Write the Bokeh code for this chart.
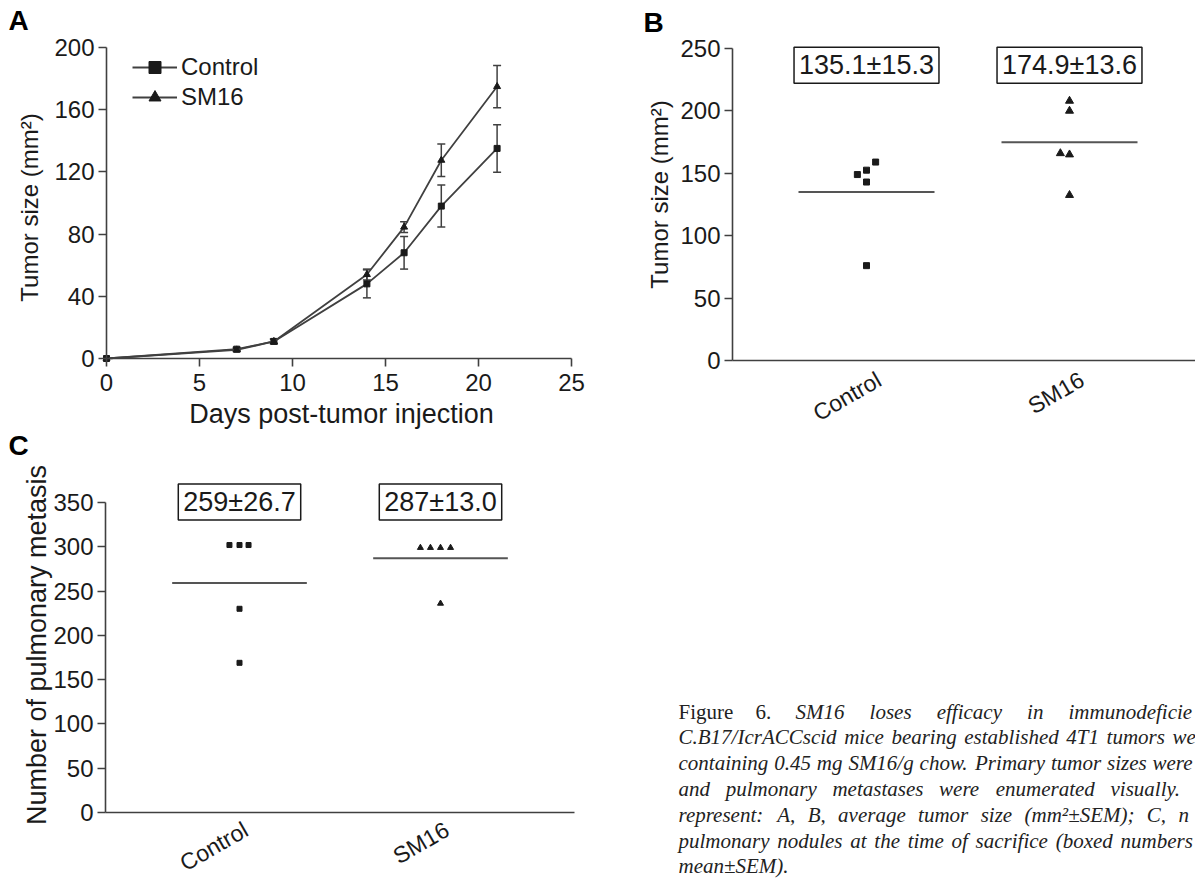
import math
from bokeh.plotting import figure
from bokeh.models import Range1d, Whisker, ColumnDataSource, Label, Legend, LegendItem, TeeHead, FixedTicker
from bokeh.layouts import row, column
from bokeh.embed import file_html
from bokeh.resources import INLINE
from bokeh.core.properties import value

FONT = "Liberation Sans"
SERIF = "Liberation Serif"
INK = "#1a1a1a"
AXIS = "#404040"

# ---------------- Panel A data ----------------
days = [0, 7, 9, 14, 16, 18, 21]
control_mean = [0, 6, 11, 48, 68, 98, 135.1]
control_sem = [0, 1, 1.5, 9, 10.5, 13.5, 15.3]
sm16_mean = [0, 5.5, 11, 54, 84.5, 127.5, 174.9]
sm16_sem = [0, 1, 1.5, 3.5, 3.5, 10.5, 13.6]
a_xticks = [0, 5, 10, 15, 20, 25]
a_yticks = [0, 40, 80, 120, 160, 200]

# ---------------- Panel B data ----------------
groups = ["Control", "SM16"]
b_control = [149, 152.5, 159, 143, 76]
b_control_jit = [-0.045, 0, 0.045, 0, 0]
b_sm16 = [208, 200, 166, 165, 132.5]
b_sm16_jit = [0, 0, -0.045, 0, 0]
b_means = [135.1, 174.9]
b_boxes = ["135.1±15.3", "174.9±13.6"]
b_yticks = [0, 50, 100, 150, 200, 250]

# ---------------- Panel C data ----------------
c_control = [302, 302, 302, 230, 169]
c_control_jit = [-0.05, 0, 0.045, 0, 0]
c_sm16 = [299, 299, 299, 299, 236]
c_sm16_jit = [-0.1, -0.05, 0, 0.05, 0]
c_means = [259, 287]
c_boxes = ["259±26.7", "287±13.0"]
c_yticks = [0, 50, 100, 150, 200, 250, 300, 350]

# ---------------- Caption (visible part of a justified column) ----------------
cap_upright = ["Figure", "6."]
cap_upright_x = [678, 755]
cap_lines = [
    "SM16 loses efficacy in immunodeficie",
    "C.B17/IcrACCscid mice bearing established 4T1 tumors we",
    "containing 0.45 mg SM16/g chow. Primary tumor sizes were",
    "and pulmonary metastases were enumerated visually.",
    "represent: A, B, average tumor size (mm²±SEM); C, n",
    "pulmonary nodules at the time of sacrifice (boxed numbers",
    "mean±SEM).",
]
# x where each line starts and where its last word starts (justified text)
cap_first_x = [795, 678, 678, 678, 678, 678, 678]
cap_last_x = [1068, 1172, 1152, 1110, 1178, 1120, None]
cap_top_baseline = 711
cap_line_step = 25.8
CAP_SIZE = 21

# approximate Times-Italic advance widths (em) used to justify the words
_TI = {" ": .25, "a": .5, "b": .5, "c": .444, "d": .5, "e": .444, "f": .278, "g": .5, "h": .5,
       "i": .278, "j": .278, "k": .444, "l": .278, "m": .722, "n": .5, "o": .5, "p": .5, "q": .5,
       "r": .389, "s": .389, "t": .278, "u": .5, "v": .444, "w": .667, "x": .444, "y": .444,
       "z": .389, "A": .611, "B": .611, "C": .667, "D": .722, "E": .611, "F": .611, "I": .333,
       "M": .833, "P": .611, "S": .5, "T": .556, ".": .25, ",": .25, ":": .333, ";": .333,
       "/": .278, "(": .333, ")": .333, "±": .549, "²": .3, "-": .333}


def tw(s):
    return sum(_TI.get(ch, .5) for ch in s) * CAP_SIZE


# ---------------- Layout (page pixels) ----------------
W_LEFT, W_RIGHT = 600, 595
H_TOP, H_BOT = 429, 449


def base_fig(w, h, xr, yr, **kw):
    p = figure(width=w, height=h, x_range=xr, y_range=yr, output_backend="svg",
               toolbar_location=None, min_border=0, **kw)
    p.grid.visible = False
    p.outline_line_color = None
    p.background_fill_color = "white"
    p.border_fill_color = "white"
    return p


def style_axis(ax, tick_size="24px"):
    ax.axis_line_color = AXIS
    ax.axis_line_width = 1.6
    ax.major_tick_line_color = AXIS
    ax.major_tick_line_width = 1.6
    ax.major_tick_out = 8
    ax.major_tick_in = 0
    ax.minor_tick_line_color = None
    ax.major_label_text_font = FONT
    ax.major_label_text_font_size = tick_size
    ax.major_label_text_color = INK
    ax.major_label_standoff = 4


def screen_label(p, text, x, y, size, bold=False, angle=0, align="left"):
    p.add_layout(Label(x=x, y=y, x_units="screen", y_units="screen", text=text,
                       text_font=FONT, text_font_style="bold" if bold else "normal",
                       text_font_size=size, text_color="black" if bold else INK,
                       angle=angle, angle_units="deg", text_align=align, text_baseline="middle"))


# ================= Panel A =================
# pixel calibration: day 0 at x=106, 18.6 px/day; 0 at y=358, 1.555 px/unit
ax0, apx, ay0, apy = 106, 18.6, 358, 1.555
pA = base_fig(W_LEFT, H_TOP, Range1d(-ax0 / apx, (W_LEFT - ax0) / apx),
              Range1d(-(H_TOP - ay0) / apy, ay0 / apy))
for ax in pA.axis:
    style_axis(ax)
pA.xaxis.ticker = FixedTicker(ticks=a_xticks)
pA.yaxis.ticker = FixedTicker(ticks=a_yticks)
pA.xaxis.bounds = (a_xticks[0], a_xticks[-1])
pA.yaxis.bounds = (a_yticks[0], a_yticks[-1])
pA.xaxis.fixed_location = 0
pA.yaxis.fixed_location = 0
pA.xaxis.major_label_standoff = 7

ctrl_line = pA.line(days, control_mean, line_color=AXIS, line_width=1.8)
ctrl_pts = pA.scatter(days, control_mean, marker="square", size=6, color=INK)
sm_line = pA.line(days, sm16_mean, line_color=AXIS, line_width=1.8)
sm_pts = pA.scatter(days, sm16_mean, marker="triangle", size=7, color=INK)

for mean, sem in ((control_mean, control_sem), (sm16_mean, sm16_sem)):
    xs = [d for d, s in zip(days, sem) if s > 0]
    up = [m + s for m, s in zip(mean, sem) if s > 0]
    lo = [m - s for m, s in zip(mean, sem) if s > 0]
    src = ColumnDataSource(dict(x=xs, upper=up, lower=lo))
    pA.add_layout(Whisker(source=src, base="x", upper="upper", lower="lower",
                          line_color=AXIS, line_width=1.5,
                          upper_head=TeeHead(size=8, line_color=AXIS, line_width=1.5),
                          lower_head=TeeHead(size=8, line_color=AXIS, line_width=1.5)))

legend = Legend(items=[LegendItem(label="Control", renderers=[ctrl_line, ctrl_pts]),
                       LegendItem(label="SM16", renderers=[sm_line, sm_pts])],
                location=(132, H_TOP - 112), glyph_width=45, glyph_height=30, label_height=30,
                label_standoff=4, padding=0, spacing=0, margin=0,
                border_line_color=None, background_fill_alpha=0,
                label_text_font=FONT, label_text_font_size="24px", label_text_color=INK)
pA.add_layout(legend)
screen_label(pA, "A", 8, H_TOP - 20, "28px", bold=True)
screen_label(pA, "Days post-tumor injection", 341, H_TOP - 413.5, "27px", align="center")
screen_label(pA, "Tumor size (mm²)", 29, H_TOP - 207, "24px", angle=90, align="center")


# ================= Dot panels (B, C) =================
def dot_panel(p, ctrl, ctrl_jit, sm, sm_jit, means, boxes, box_y, yticks, yaxis_x, xaxis_end,
              sq_size, tri_size, cat_dx, cat_y):
    for ax in p.axis:
        style_axis(ax)
    p.yaxis.ticker = FixedTicker(ticks=yticks)
    p.yaxis.bounds = (yticks[0], yticks[-1])
    p.yaxis.fixed_location = yaxis_x
    p.xaxis.ticker = FixedTicker(ticks=[])
    p.xaxis.major_tick_out = 0
    p.xaxis.bounds = (yaxis_x, xaxis_end)
    p.xaxis.fixed_location = 0
    p.scatter([1 + j for j in ctrl_jit], ctrl, marker="square", size=sq_size, color=INK)
    p.scatter([2 + j for j in sm_jit], sm, marker="triangle", size=tri_size, color=INK)
    xc = [i + 1 for i in range(len(groups))]
    p.segment(x0=[x - 0.335 for x in xc], x1=[x + 0.335 for x in xc], y0=means, y1=means,
              line_color="#555555", line_width=2)
    for x, t in zip(xc, boxes):
        p.add_layout(Label(x=x, y=box_y, text=t, text_font=FONT, text_font_size="27px",
                           text_color=INK, text_align="center", text_baseline="middle",
                           border_line_color=INK, border_line_width=1.5,
                           padding=dict(left=5, right=5, top=3, bottom=3)))
    for x, g in zip(xc, groups):
        p.add_layout(Label(x=x + cat_dx, y=cat_y, text=g, text_font=FONT,
                           text_font_size="23px", text_color=INK, angle=30, angle_units="deg",
                           text_align="right", text_baseline="top"))


# B calibration: x=1 at 866 px (page), 203 px/unit; y 0 at 360, 1.248 px/unit
bx1, bpx, by0, bpy = 866 - W_LEFT, 203, 360, 1.248
pB = base_fig(W_RIGHT, H_TOP, Range1d(1 - bx1 / bpx, 1 + (W_RIGHT - bx1) / bpx),
              Range1d(-(H_TOP - by0) / bpy, by0 / bpy))
dot_panel(pB, b_control, b_control_jit, b_sm16, b_sm16_jit, b_means, b_boxes, 236.5, b_yticks,
          1 - (866 - 732) / bpx, 1 + (W_RIGHT - bx1) / bpx, 6, 8, 0.03, -6 / bpy)
screen_label(pB, "B", 43, H_TOP - 22, "28px", bold=True)
screen_label(pB, "Tumor size (mm²)", 658.5 - W_LEFT, H_TOP - 194, "24px", angle=90, align="center")

# C calibration: x=1 at 239 px, 201 px/unit; y 0 at 812 (page), 0.8857 px/unit
cx1, cpx, cy0, cpy = 239, 201, 812 - H_TOP, 0.8857
pC = base_fig(W_LEFT, H_BOT, Range1d(1 - cx1 / cpx, 1 + (W_LEFT - cx1) / cpx),
              Range1d(-(H_BOT - cy0) / cpy, cy0 / cpy))
dot_panel(pC, c_control, c_control_jit, c_sm16, c_sm16_jit, c_means, c_boxes, 350.5, c_yticks,
          1 - (239 - 105) / cpx, 1 + (574 - 239) / cpx, 5, 6, 0.0, -4 / cpy)
screen_label(pC, "C", 8, H_BOT - (445 - H_TOP), "28px", bold=True)
screen_label(pC, "Number of pulmonary metasis", 36.5, H_BOT - (644.5 - H_TOP), "27px", angle=90,
             align="center")

# ================= Caption =================
pCap = base_fig(W_RIGHT, H_BOT, Range1d(W_LEFT, W_LEFT + W_RIGHT), Range1d(H_TOP + H_BOT, H_TOP),
                x_axis_type=None, y_axis_type=None)
tx, ty, tt = [], [], []
for i, (line, x0, xl) in enumerate(zip(cap_lines, cap_first_x, cap_last_x)):
    yy = cap_top_baseline + i * cap_line_step
    words = line.split(" ")
    if xl is None or len(words) == 1:
        tx.append(x0); ty.append(yy); tt.append(line)
        continue
    natural = sum(tw(w) for w in words[:-1]) + tw(" ") * (len(words) - 1)
    gap = tw(" ") + (xl - x0 - natural) / (len(words) - 1)
    x = x0
    for w in words:
        tx.append(x); ty.append(yy); tt.append(w)
        x += tw(w) + gap
pCap.text(x=tx, y=ty, text=tt, text_font=value(SERIF), text_font_style="italic",
          text_font_size=f"{CAP_SIZE}px", text_color="#222222", text_align="left",
          text_baseline="alphabetic")
pCap.text(x=cap_upright_x, y=[cap_top_baseline] * len(cap_upright), text=cap_upright,
          text_font=value(SERIF), text_font_style="normal", text_font_size=f"{CAP_SIZE}px",
          text_color="#222222", text_align="left", text_baseline="alphabetic")

layout = column(row(pA, pB), row(pC, pCap))
open("out.html", "w").write(file_html(layout, INLINE))
